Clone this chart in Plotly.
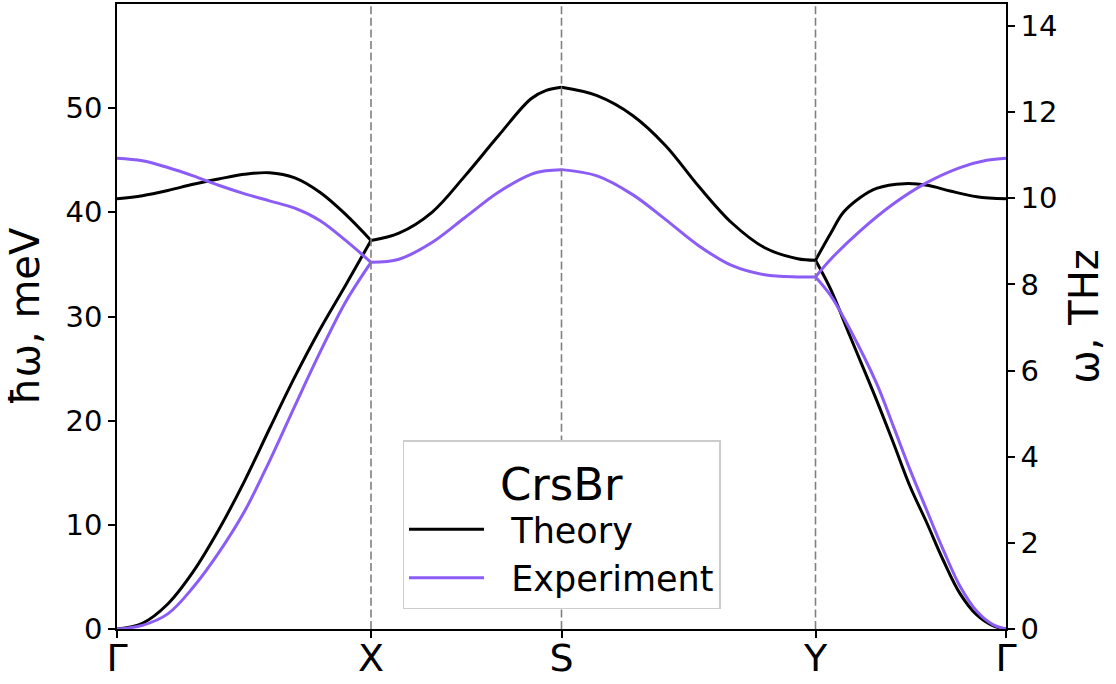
import plotly.graph_objects as go

# ---- high-symmetry path ----
path_labels = ["Γ", "X", "S", "Y", "Γ"]
path_q = [0.0, 1.0, 1.75, 2.75, 3.5]
MEV_PER_THZ = 4.135667

# ---- Theory ----
q_gx = [0.0, 0.1, 0.2, 0.3, 0.4, 0.5, 0.6, 0.7, 0.8, 0.9, 1.0]
th_gx_low = [0.0, 0.55, 2.4, 5.5, 9.5, 14.1, 19.2, 24.2, 28.8, 33.0, 37.3]
th_gx_up = [41.3, 41.6, 42.1, 42.7, 43.2, 43.65, 43.8, 43.3, 41.9, 39.8, 37.3]

q_xs = [1.0, 1.11, 1.24, 1.37, 1.5, 1.63, 1.69, 1.75]
th_xs = [37.3, 38.0, 40.0, 43.5, 47.3, 50.9, 51.7, 52.0]

q_sy = [1.75, 1.89, 2.03, 2.16, 2.29, 2.42, 2.55, 2.68, 2.75]
th_sy = [52.0, 51.2, 49.3, 46.4, 42.5, 39.0, 36.6, 35.55, 35.4]

q_yg_th_up = [2.75, 2.81, 2.86, 2.925, 2.99, 3.10, 3.19, 3.28, 3.385, 3.5]
th_yg_up = [35.4, 38.0, 40.0, 41.4, 42.3, 42.75, 42.6, 42.05, 41.5, 41.3]

q_yg_low = [2.75, 2.81, 2.886, 2.99, 3.056, 3.122, 3.188, 3.253, 3.319, 3.385, 3.45, 3.5]
th_yg_low = [35.4, 32.6, 28.1, 22.0, 17.9, 13.7, 10.2, 6.6, 3.4, 1.35, 0.3, 0.0]

# ---- Experiment ----
ex_gx_low = [0.0, 0.35, 1.45, 4.0, 7.3, 11.2, 16.1, 21.4, 26.6, 31.4, 35.2]
ex_gx_up = [45.2, 44.95, 44.3, 43.5, 42.6, 41.8, 41.1, 40.4, 39.2, 37.3, 35.2]

ex_xs = [35.2, 35.5, 37.1, 39.5, 41.9, 43.65, 44.0, 44.1]
ex_sy = [44.1, 43.5, 41.7, 39.3, 36.8, 34.9, 34.0, 33.8, 33.8]

q_yg_ex_up = [2.75, 2.81, 2.925, 3.056, 3.188, 3.319, 3.424, 3.5]
ex_yg_up = [33.8, 35.5, 38.2, 40.8, 42.85, 44.3, 45.0, 45.2]
ex_yg_low = [33.8, 32.0, 28.75, 23.6, 19.5, 15.3, 11.4, 7.6, 4.1, 1.7, 0.4, 0.0]

TH_COLOR = "#000000"
EX_COLOR = "#8B5CF6"
FONT = "DejaVu Sans"
NBSP = "\u00a0"

fig = go.Figure()

theory_segments = [
    (q_gx, th_gx_low), (q_gx, th_gx_up), (q_xs, th_xs), (q_sy, th_sy),
    (q_yg_th_up, th_yg_up), (q_yg_low, th_yg_low),
]
experiment_segments = [
    (q_gx, ex_gx_low), (q_gx, ex_gx_up), (q_xs, ex_xs), (q_sy, ex_sy),
    (q_yg_ex_up, ex_yg_up), (q_yg_low, ex_yg_low),
]

for i, (qq, ee) in enumerate(theory_segments):
    fig.add_trace(go.Scatter(
        x=qq, y=ee, mode="lines", name=NBSP * 2 + "Theory", legendgroup="th",
        showlegend=(i == 0), line=dict(color=TH_COLOR, width=3, shape="spline", smoothing=1.0),
    ))
for i, (qq, ee) in enumerate(experiment_segments):
    fig.add_trace(go.Scatter(
        x=qq, y=ee, mode="lines", name=NBSP * 2 + "Experiment", legendgroup="ex",
        showlegend=(i == 0), line=dict(color=EX_COLOR, width=3, shape="spline", smoothing=1.0),
    ))

# THz twin axis: same theory band expressed in THz, drawn invisibly to bind the right axis
fig.add_trace(go.Scatter(
    x=q_xs, y=[e / MEV_PER_THZ for e in th_xs], yaxis="y2", mode="lines",
    line=dict(width=0, color="rgba(0,0,0,0)"), showlegend=False, hoverinfo="skip",
))

# vertical dashed lines at inner high-symmetry points
for qv in path_q[1:-1]:
    fig.add_shape(type="line", xref="x", yref="paper", x0=qv, x1=qv, y0=0, y1=1,
                  line=dict(color="#808080", width=1.6, dash="8px,3.6px"), layer="above")

ymax_mev = 60
fig.update_layout(
    width=1116, height=684,
    margin=dict(l=117, r=110, t=4, b=55),
    paper_bgcolor="white", plot_bgcolor="white",
    font=dict(family=FONT, color="black", size=29),
    showlegend=True,
    legend=dict(
        x=0.5, xanchor="center", y=0.032, yanchor="bottom",
        bgcolor="white", bordercolor="#cccccc", borderwidth=1.5,
        font=dict(size=35, family=FONT, color="black"),
        title=dict(text="CrsBr", side="top center", font=dict(size=45, family=FONT, color="black")),
        tracegroupgap=0, itemwidth=75,
    ),
    xaxis=dict(
        range=[0, 3.5], tickmode="array", tickvals=path_q, ticktext=path_labels,
        tickfont=dict(size=38, family=FONT), ticks="outside", ticklen=7, tickwidth=1.5,
        tickcolor="black", showline=True, linecolor="black", linewidth=1.5, mirror=True,
        showgrid=False, zeroline=False, automargin=False, ticklabelstandoff=-12,
    ),
    yaxis=dict(
        range=[0, ymax_mev], tickmode="array", tickvals=[0, 10, 20, 30, 40, 50],
        tickfont=dict(size=29, family=FONT), ticks="outside", ticklen=7, tickwidth=1.5,
        tickcolor="black", showline=True, linecolor="black", linewidth=1.5, mirror=True,
        showgrid=False, zeroline=False, automargin=False,
        title=dict(text="ħω, meV", font=dict(size=40, family=FONT), standoff=14),
    ),
    yaxis2=dict(
        overlaying="y", side="right", anchor="x",
        range=[0, ymax_mev / MEV_PER_THZ], tickmode="array", tickvals=[0, 2, 4, 6, 8, 10, 12, 14],
        tickfont=dict(size=29, family=FONT), ticks="outside", ticklen=7, tickwidth=1.5,
        tickcolor="black", showline=True, linecolor="black", linewidth=1.5,
        showgrid=False, zeroline=False, automargin=False,
        title=dict(text="ω, THz", font=dict(size=40, family=FONT), standoff=14),
    ),
)

fig.write_html("out.html")
